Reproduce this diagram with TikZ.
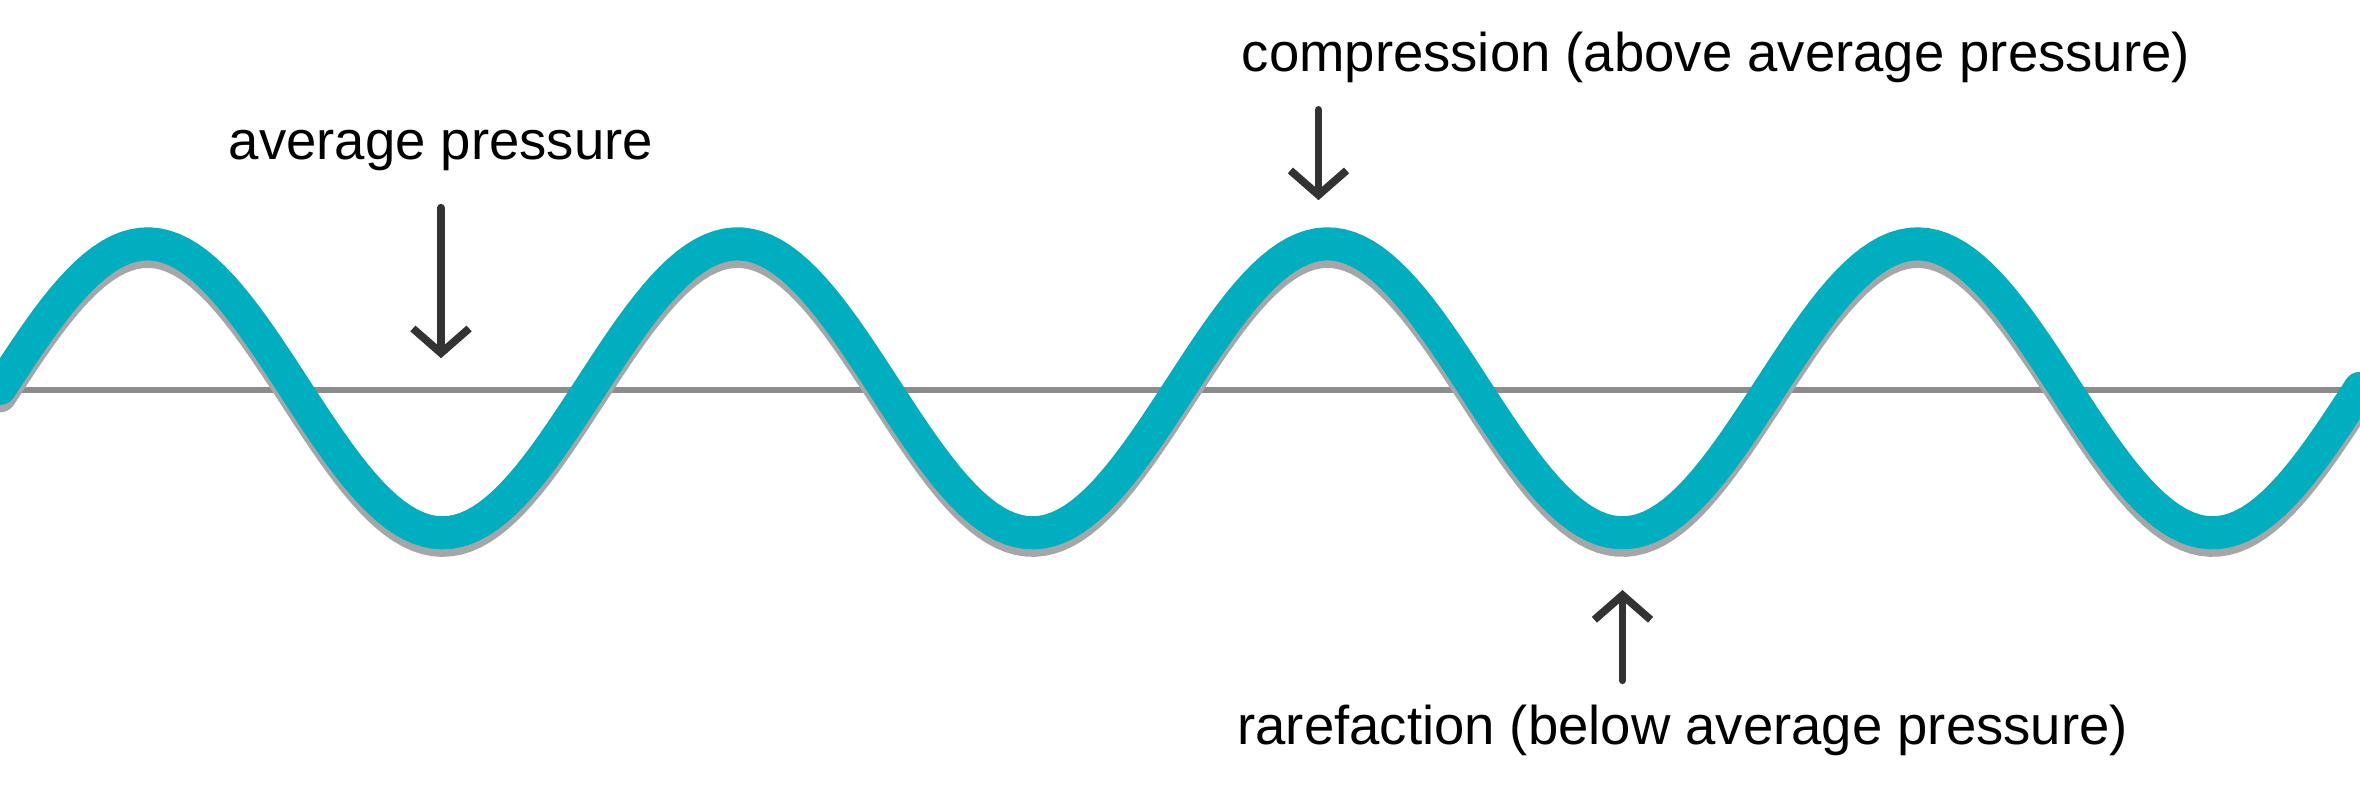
\documentclass[tikz,border=0pt]{standalone}
\usepackage{fontspec}
\setmainfont{Liberation Sans}
\usetikzlibrary{arrows.meta,positioning}
\definecolor{wavecol}{HTML}{00AFBF}
\definecolor{arrowcol}{HTML}{333333}
\tikzset{
  label/.style={font=\fontsize{15.5}{18}\selectfont, text=black, inner sep=0pt},
  pointer/.style={draw=arrowcol, line width=2.2pt, line cap=round,
    -{Straight Barb[length=7pt,width=16pt,line width=2.2pt]}},
}
\begin{document}
\begin{tikzpicture}[x=0.01505cm,y=-0.01505cm]
%%%%%%%%%%%%%%%%%%%%%%%%%%%%%%%%%%%%%%%%%%% frame
\useasboundingbox (0,0) rectangle (1568,522);

%%%%%%%%%%%%%%%%%%%%%%%%%%%%%%%%%%%%%%%%%%% axis and wave
\draw[gray!90, line width=1.7pt] (0,259) -- (1568,259);
\draw[gray!70, line width=9.4pt, line cap=round, samples=300, domain=0:1568]
  plot (\x,{263-96*sin(\x/392*360)});
\draw[wavecol, line width=9.4pt, line cap=round, samples=300, domain=0:1568]
  plot (\x,{258-96*sin(\x/392*360)});

%%%%%%%%%%%%%%%%%%%%%%%%%%%%%%%%%%%%%%%%%%% labels
\node[label] (avg) at (293,100) {average pressure};
\node[label] (comp) at (1140,38) {compression (above average pressure)};
\node[label] (rare) at (1118,485) {rarefaction (below average pressure)};

\coordinate (avgtop) at (293,138);
\coordinate (avgbot) at (293,238);
\coordinate (comptop) at (876,73);
\coordinate (compbot) at (876,133);
\coordinate (raretop) at (1078,392);
\coordinate (rarebot) at (1078,452);

\draw[pointer] (avgtop) -- (avgbot);
\draw[pointer] (comptop) -- (compbot);
\draw[pointer] (rarebot) -- (raretop);
\end{tikzpicture}
\end{document}
